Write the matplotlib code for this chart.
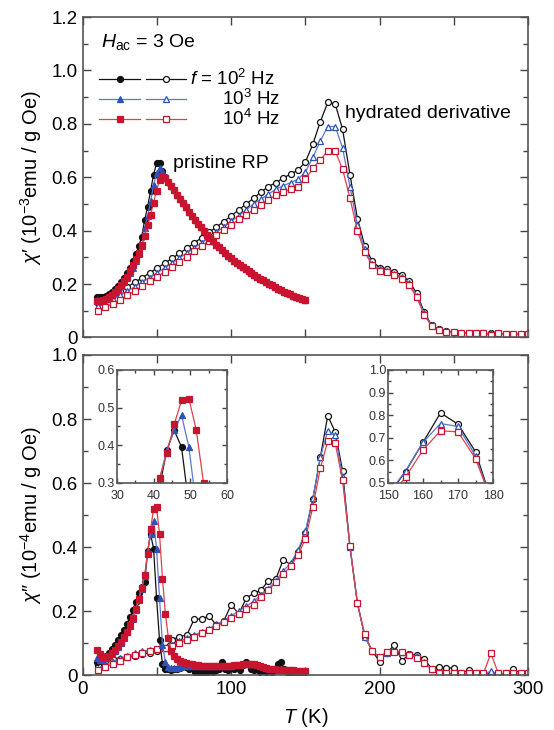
import matplotlib.pyplot as plt
from matplotlib.ticker import MultipleLocator, FuncFormatter

plt.rcParams['font.family'] = ['Liberation Sans', 'DejaVu Sans']
plt.rcParams['mathtext.fontset'] = 'custom'
plt.rcParams['mathtext.rm'] = 'Liberation Sans'
plt.rcParams['mathtext.it'] = 'Liberation Sans:italic'
plt.rcParams['mathtext.bf'] = 'Liberation Sans:bold'

# ---- data -------------------------------------------------------------
# pristine RP, measured every ~2 K
T_pr = [9.6, 11.6, 13.6, 15.6, 17.6, 19.6, 21.6, 23.6, 25.6, 27.6,
        29.6, 31.6, 33.6, 35.6, 37.6, 39.6, 41.6, 43.6, 45.6, 47.6,
        49.6, 51.6, 53.6, 55.6, 57.6, 59.6, 61.6, 63.6, 65.6, 67.6,
        69.6, 71.6, 73.6, 75.6, 77.6, 79.6, 81.6, 83.6, 85.6, 87.6,
        89.6, 91.6, 93.6, 95.6, 97.6, 99.6, 101.6, 103.6, 105.6, 107.6,
        109.6, 111.6, 113.6, 115.6, 117.6, 119.6, 121.6, 123.6, 125.6, 127.6,
        129.6, 131.6, 133.6, 135.6, 137.6, 139.6, 141.6, 143.6, 145.6, 147.6,
        149.6]
# hydrated derivative, measured every 5 K
T_hy = [10, 15, 20, 25, 30, 35, 40, 45, 50, 55,
        60, 65, 70, 75, 80, 85, 90, 95, 100, 105,
        110, 115, 120, 125, 130, 135, 140, 145, 150, 155,
        160, 165, 170, 175, 180, 185, 190, 195, 200, 205,
        210, 215, 220, 225, 230, 235, 240, 245, 250, 255,
        260, 265, 270, 275, 280, 285, 290, 295, 300]

# chi' pristine: rising part (9.6-57.6 K) per frequency, common decline (59.6-149.6 K)
rise1_pr_1e2 = [.150, .150, .152, .157, .163, .172, .182, .194, .207, .222,
                .240, .260, .285, .312, .342, .378, .440, .490, .550, .610,
                .652, .655, .625, .600, .583]
rise1_pr_1e3 = [.140, .140, .142, .147, .153, .161, .170, .181, .193, .207,
                .223, .241, .262, .286, .313, .344, .410, .455, .510, .570,
                .615, .635, .625, .600, .583]
rise1_pr_1e4 = [.135, .137, .140, .145, .152, .160, .170, .182, .195, .210,
                .228, .248, .270, .295, .318, .345, .380, .420, .460, .505,
                .550, .590, .605, .596, .582]
fall1_pr = [.567, .551, .535, .519, .503, .487, .471, .456, .441, .426,
            .412, .398, .385, .372, .360, .348, .337, .326, .316, .306,
            .297, .288, .279, .271, .263, .256, .248, .241, .234, .227,
            .220, .214, .207, .201, .195, .189, .183, .178, .172, .167,
            .162, .157, .152, .148, .143, .139]
chi1_pr_1e2 = rise1_pr_1e2 + fall1_pr
chi1_pr_1e3 = rise1_pr_1e3 + fall1_pr
chi1_pr_1e4 = rise1_pr_1e4 + fall1_pr

# chi' hydrated
chi1_hy_1e2 = [.130, .144, .158, .174, .190, .207, .224, .242, .260, .278,
               .296, .315, .334, .354, .374, .394, .414, .434, .456, .478,
               .500, .521, .545, .565, .580, .597, .612, .627, .658, .724,
               .808, .880, .875, .780, .610, .445, .343, .285, .262, .255,
               .245, .235, .210, .165, .096, .046, .032, .025, .020, .018,
               .017, .016, .015, .015, .015, .014, .014, .014, .014]
chi1_hy_1e3 = [.118, .130, .144, .159, .174, .190, .207, .224, .242, .260,
               .278, .297, .316, .335, .354, .374, .394, .414, .435, .456,
               .478, .500, .518, .537, .555, .568, .580, .593, .620, .675,
               .735, .790, .790, .710, .565, .420, .330, .275, .256, .248,
               .238, .228, .203, .157, .090, .045, .030, .023, .020, .018,
               .017, .016, .015, .015, .015, .014, .014, .014, .014]
chi1_hy_1e4 = [.100, .113, .127, .142, .158, .175, .192, .210, .228, .246,
               .265, .284, .303, .323, .342, .362, .382, .402, .422, .442,
               .460, .478, .496, .515, .534, .546, .555, .565, .592, .634,
               .665, .699, .699, .630, .522, .400, .319, .270, .250, .244,
               .235, .220, .195, .150, .085, .042, .028, .022, .020, .018,
               .017, .016, .015, .008, .015, .014, .014, .014, .013]

# chi'' pristine
chi2_pr_1e2 = [.040, .045, .050, .058, .068, .080, .094, .108, .124, .140,
               .160, .180, .203, .228, .255, .275, .290, .388, .440, .395,
               .240, .110, .035, .018, .020, .015, .020, .020, .022, .030,
               .025, .020, .025, .010, .005, .005, .010, .005, .020, .010,
               .015, .020, .042, .020, .015, .025, .020, .025, .015, .030,
               .040, .035, .020, .015, .020, .010, .015, .010, .015, .010,
               .020, .035, .040, .020, .010, .003, .010, .008, .010, .010,
               .010]
chi2_pr_1e3 = [.052, .048, .048, .052, .058, .066, .076, .088, .101, .116,
               .133, .153, .176, .203, .235, .270, .310, .388, .440, .480,
               .395, .240, .095, .040, .026, .022, .022, .023, .025, .027,
               .028, .029, .029, .029, .029, .029, .028, .028, .027, .027,
               .027, .027, .027, .028, .028, .029, .030, .031, .032, .034,
               .035, .036, .035, .033, .030, .027, .024, .022, .020, .019,
               .018, .017, .017, .016, .016, .015, .015, .014, .014, .013,
               .013]
chi2_pr_1e4 = [.078, .066, .056, .055, .060, .068, .078, .090, .103, .118,
               .135, .155, .178, .205, .238, .272, .312, .379, .456, .519,
               .524, .441, .300, .190, .115, .075, .058, .049, .044, .040,
               .037, .035, .033, .031, .030, .029, .028, .028, .027, .027,
               .027, .027, .027, .028, .028, .029, .030, .031, .032, .034,
               .035, .036, .035, .033, .030, .027, .024, .022, .020, .019,
               .018, .017, .017, .016, .016, .015, .015, .014, .014, .013,
               .013]

# chi'' hydrated
chi2_hy_1e2 = [.030, .045, .050, .050, .055, .060, .065, .070, .075, .085,
               .110, .120, .125, .175, .175, .185, .155, .170, .220, .190,
               .240, .255, .265, .295, .300, .360, .345, .385, .445, .550,
               .680, .810, .760, .638, .400, .225, .120, .075, .042, .070,
               .094, .045, .065, .062, .050, .020, .025, .022, .022, .005,
               .016, .005, .003, .003, .003, .005, .020, .005, .005]
chi2_hy_1e3 = [.020, .032, .042, .052, .060, .068, .074, .078, .081, .085,
               .095, .105, .115, .125, .135, .145, .158, .170, .185, .200,
               .215, .230, .250, .270, .295, .325, .350, .390, .450, .553,
               .680, .763, .750, .620, .400, .225, .120, .075, .055, .070,
               .075, .072, .065, .058, .040, .020, .008, .005, .003, .003,
               .003, .003, .003, .012, .003, .003, .003, .003, .003]
chi2_hy_1e4 = [.015, .025, .035, .045, .055, .063, .070, .075, .080, .083,
               .090, .100, .110, .120, .130, .140, .152, .165, .178, .190,
               .205, .220, .245, .265, .290, .315, .340, .375, .426, .526,
               .646, .731, .726, .608, .403, .224, .127, .075, .055, .073,
               .072, .072, .064, .054, .037, .019, .006, .005, .005, .005,
               .005, .005, .005, .068, .005, .005, .005, .005, .005]

freq_labels = [r'$f$ = 10$^2$ Hz', r'10$^3$ Hz', r'10$^4$ Hz']

# ---- styles -----------------------------------------------------------
mark_col = ['#111111', '#2d52b8', '#c8142f']
line_col = ['#111111', '#5a78d0', '#e0404c']
markers = ['o', '^', 's']
sizes = [4.3, 4.8, 4.3]


def draw(ax, T, ys, filled, ms_scale=1.0):
    for i, y in enumerate(ys):
        ax.plot(T, y, color=line_col[i], lw=0.9, marker=markers[i],
                ms=sizes[i] * ms_scale, mec=mark_col[i], mew=0.9,
                mfc=mark_col[i] if filled else 'white')


def zero_fmt(v, pos):
    return '0' if abs(v) < 1e-9 else '%.1f' % v


def style(ax, size=13.5, major=6, minor=3.5):
    ax.tick_params(which='both', direction='in', top=True, right=True,
                   color='#444444', width=1.0)
    ax.tick_params(which='major', length=major, labelsize=size, pad=4)
    ax.tick_params(which='minor', length=minor)
    for s in ax.spines.values():
        s.set_linewidth(1.2)
        s.set_color('#555555')


fig = plt.figure(figsize=(5.54, 7.30), dpi=100)
ax1 = fig.add_axes([0.1498, 0.5377, 0.8032, 0.4390])
ax2 = fig.add_axes([0.1498, 0.0753, 0.8032, 0.4384])

# top panel: chi'
draw(ax1, T_hy, [chi1_hy_1e2, chi1_hy_1e3, chi1_hy_1e4], False)
draw(ax1, T_pr, [chi1_pr_1e2, chi1_pr_1e3, chi1_pr_1e4], True)
ax1.set_xlim(0, 300)
ax1.set_ylim(0, 1.2)
ax1.xaxis.set_major_locator(MultipleLocator(50))
ax1.set_xticklabels([])
ax1.yaxis.set_major_locator(MultipleLocator(0.2))
ax1.yaxis.set_minor_locator(MultipleLocator(0.1))
ax1.yaxis.set_major_formatter(FuncFormatter(zero_fmt))
style(ax1)
ax1.set_ylabel("$\\chi$\u2032 (10$^{-3}$emu / g Oe)", fontsize=14.5)
ax1.yaxis.set_label_coords(-0.088, 0.5)

ax1.text(0.040, 0.923, r'$H_{\rm ac}$ = 3 Oe', transform=ax1.transAxes,
         fontsize=14, va='center', ha='left')
# hand-made legend: filled (pristine) and open (hydrated) samples
for i, (yr, lab) in enumerate(zip([0.806, 0.743, 0.682], freq_labels)):
    for x0, x1, xm, filled in [(0.037, 0.128, 0.083, True),
                               (0.142, 0.231, 0.187, False)]:
        ax1.plot([x0, x1], [yr, yr], transform=ax1.transAxes,
                 color=line_col[i], lw=0.9, clip_on=False)
        ax1.plot([xm], [yr], transform=ax1.transAxes, marker=markers[i],
                 ms=sizes[i], mec=mark_col[i], mew=0.9,
                 mfc=mark_col[i] if filled else 'white', clip_on=False)
    ax1.text(0.240 if i == 0 else 0.312, yr, lab, transform=ax1.transAxes,
             fontsize=13.5, va='center', ha='left')
ax1.text(61, 0.652, 'pristine RP', fontsize=14, va='center', ha='left')
ax1.text(176.5, 0.84, 'hydrated derivative', fontsize=14, va='center',
         ha='left')

# bottom panel: chi''
draw(ax2, T_hy, [chi2_hy_1e2, chi2_hy_1e3, chi2_hy_1e4], False)
draw(ax2, T_pr, [chi2_pr_1e2, chi2_pr_1e3, chi2_pr_1e4], True)
ax2.set_xlim(0, 300)
ax2.set_ylim(0, 1.0)
ax2.xaxis.set_major_locator(MultipleLocator(100))
ax2.xaxis.set_minor_locator(MultipleLocator(50))
ax2.yaxis.set_major_locator(MultipleLocator(0.2))
ax2.yaxis.set_minor_locator(MultipleLocator(0.1))
ax2.yaxis.set_major_formatter(FuncFormatter(zero_fmt))
style(ax2)
ax2.tick_params(axis='x', which='minor', length=6)
ax2.set_ylabel("$\\chi$\u2033 (10$^{-4}$emu / g Oe)", fontsize=14.5)
ax2.yaxis.set_label_coords(-0.088, 0.5)
ax2.set_xlabel(r'$T$ (K)', fontsize=14.5)
ax2.xaxis.set_label_coords(0.5, -0.098)

# insets
in1 = fig.add_axes([0.2112, 0.3384, 0.1986, 0.1548])
draw(in1, T_pr, [chi2_pr_1e2, chi2_pr_1e3, chi2_pr_1e4], True)
in1.set_xlim(30, 60)
in1.set_ylim(0.3, 0.6)
in1.xaxis.set_major_locator(MultipleLocator(10))
in1.xaxis.set_minor_locator(MultipleLocator(5))
in1.yaxis.set_major_locator(MultipleLocator(0.1))
in1.yaxis.set_minor_locator(MultipleLocator(0.05))
in1.yaxis.set_major_formatter(FuncFormatter(lambda v, p: '%.1f' % v))
style(in1, size=9, major=3.5, minor=2)

in2 = fig.add_axes([0.7004, 0.3384, 0.1895, 0.1548])
draw(in2, T_hy, [chi2_hy_1e2, chi2_hy_1e3, chi2_hy_1e4], False)
in2.set_xlim(150, 180)
in2.set_ylim(0.5, 1.0)
in2.xaxis.set_major_locator(MultipleLocator(10))
in2.xaxis.set_minor_locator(MultipleLocator(5))
in2.yaxis.set_major_locator(MultipleLocator(0.1))
in2.yaxis.set_minor_locator(MultipleLocator(0.05))
in2.yaxis.set_major_formatter(FuncFormatter(lambda v, p: '%.1f' % v))
style(in2, size=9, major=3.5, minor=2)
for ax in (in1, in2):
    ax.tick_params(labelcolor='#333333')
    ax.tick_params(axis='x', pad=5)
    ax.tick_params(axis='y', pad=1.5)

fig.savefig('out.png', dpi=100)
